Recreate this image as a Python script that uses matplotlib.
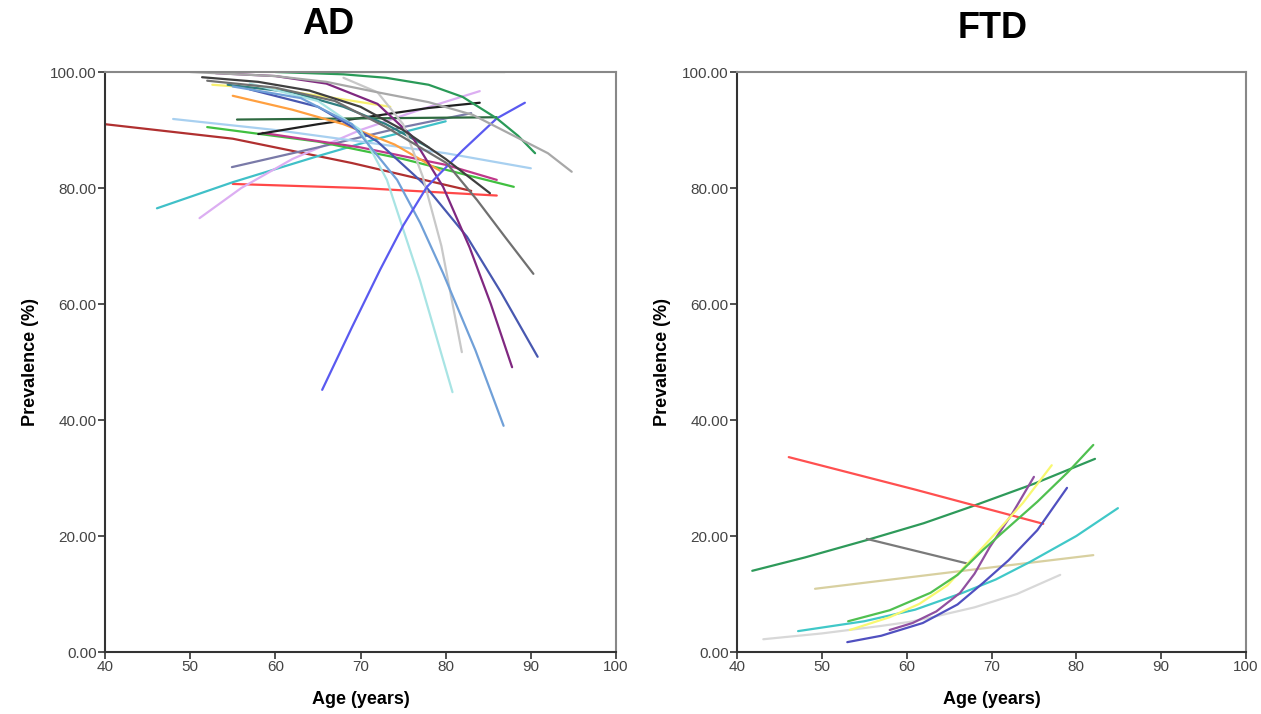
import numpy as np
import matplotlib
matplotlib.use('Agg')
import matplotlib.pyplot as plt

# AD curves: age and prevalence points
ad_age = [
    [40, 55, 69, 83],                                   # dark red
    [55, 70, 86],                                       # red
    [46.1, 55, 65, 72, 80],                             # turquoise
    [51.1, 56, 62, 70, 77, 84],                         # lilac
    [54.9, 65, 75, 83],                                 # slate
    [48, 60, 70, 80, 90],                               # light blue
    [52, 65, 75, 88],                                   # green
    [58.5, 70, 80, 86],                                 # magenta
    [58, 65, 72, 78, 84],                               # black rising
    [55.5, 70, 86],                                     # dark green flat
    [55, 62, 68, 74, 79.3],                             # orange
    [52.6, 60, 67, 73.5],                               # yellow
    [54.4, 62, 68, 73, 78],                             # teal
    [57, 65, 72, 77.3, 82.5, 86.5, 90.8],               # dark blue
    [53, 60, 66, 72, 76, 79.7, 82.8, 85.3, 87.8],       # purple
    [68, 72, 75, 77.3, 79.5, 81.9],                     # light gray steep
    [57, 65, 70, 73.1, 77, 80.8],                       # light cyan
    [55, 63, 69, 74.3, 77, 79.7, 83.5, 86.8],           # steel blue
    [65.5, 69, 72.3, 75, 77.8, 82, 86, 89.3],           # bright blue
    [52, 60, 67, 73, 80.1, 83.7, 87, 90.3],             # dark gray
    [60, 68, 73, 78, 82, 86, 88.5, 90.5],               # green top
    [50, 60, 66, 72, 78, 83.2, 88, 92, 94.8],           # medium gray
    [63, 87],                                           # gray green at top
    [51.4, 58, 64, 70, 75, 80, 85.2],                   # black
]
ad_prev = [
    [91, 88.5, 84.3, 79.5],
    [80.7, 80, 78.7],
    [76.5, 81, 85.5, 88.5, 91.5],
    [74.8, 80, 85, 90, 93.5, 96.7],
    [83.6, 87, 90.5, 92.9],
    [91.9, 90, 88, 86, 83.4],
    [90.5, 88, 85, 80.2],
    [89.5, 87, 84, 81.4],
    [89.3, 91, 92.5, 93.8, 94.7],
    [91.8, 92, 92.2],
    [95.9, 93.5, 91, 87.5, 83],
    [97.8, 97, 95.5, 94],
    [97.8, 96.5, 94, 91, 87],
    [97, 94, 88, 80.9, 71.6, 62, 50.9],
    [99.8, 99.3, 98, 94.5, 89, 80.2, 69.8, 60, 49.1],
    [99, 96.5, 91, 82, 70, 51.7],
    [98, 95, 90, 81.4, 64, 44.8],
    [97.5, 95.5, 91, 81.4, 74, 65.3, 52, 39],
    [45.2, 56, 65.9, 73.5, 80.2, 86.5, 92, 94.7],
    [98.5, 97.3, 95, 90.5, 84.3, 77.9, 71.5, 65.2],
    [100, 99.6, 99, 97.8, 95.7, 92, 89, 86],
    [100, 99.3, 98.3, 96.5, 94.8, 92.6, 89, 86, 82.8],
    [100, 100],
    [99.1, 98.3, 96.8, 94, 90, 85, 79.1],
]
ad_colors = [
    '#b03030', '#ff4848', '#40c0c8', '#dcaef2', '#7a7aa8', '#a8d0f0',
    '#40c040', '#c0388a', '#202020', '#2e6a40', '#ffa040', '#f8f070',
    '#2f7f80', '#4858b0', '#802880', '#c8c8c8', '#a8e4e4', '#70a0d8',
    '#5a5af0', '#707070', '#2a9a58', '#a8a8a8', '#8a9a88', '#404040',
]

# FTD curves
ftd_age = [
    [41.8, 48, 55.3, 62, 67.5, 75, 82.2],               # dark green
    [46.1, 61, 76.1],                                   # red
    [55.3, 67.3],                                       # gray
    [49.2, 65.5, 82],                                   # khaki
    [43.1, 50, 57, 60.4, 63, 68, 73, 78.1],             # light gray
    [47.2, 55, 61, 66.6, 70.5, 74.5, 80, 84.9],         # cyan
    [53, 57, 61.9, 66, 69, 72, 75.4, 78.9],             # blue
    [58, 60.7, 63.5, 66.3, 68, 69.8, 72.5, 75],         # purple
    [53.3, 58, 61.5, 64.8, 69, 73.7, 77.1],             # yellow
    [53.1, 58, 62.8, 66, 69, 72, 75.4, 79, 82],         # green
]
ftd_prev = [
    [14, 16.3, 19.3, 22.2, 25, 29, 33.3],
    [33.6, 28, 22.1],
    [19.5, 15.2],
    [10.9, 13.8, 16.7],
    [2.2, 3.2, 4.5, 5.2, 6, 7.7, 10, 13.3],
    [3.6, 5.3, 7.3, 10.2, 12.5, 15.5, 20, 24.8],
    [1.7, 2.8, 5, 8.2, 11.9, 15.8, 21, 28.3],
    [3.8, 5, 7, 10.2, 13.5, 18.1, 24, 30.2],
    [3.8, 6, 8.3, 11.5, 18.1, 25.7, 32.2],
    [5.3, 7.2, 10.2, 13.3, 17.6, 21.5, 25.9, 31, 35.7],
]
ftd_colors = [
    '#2e9a5a', '#ff5050', '#7a7a7a', '#d8d0a0', '#d8d8d8', '#40c8c8',
    '#5050c0', '#9050a0', '#f8f870', '#50c050',
]

plt.rcParams['font.family'] = ['Liberation Sans', 'DejaVu Sans']

fig = plt.figure(figsize=(12.61, 7.14), dpi=100)
ax_ad = fig.add_axes([105 / 1261, 1 - 652 / 714, 511 / 1261, 580 / 714])
ax_ftd = fig.add_axes([737 / 1261, 1 - 652 / 714, 509 / 1261, 580 / 714])

for ages, prevs, col in zip(ad_age, ad_prev, ad_colors):
    ax_ad.plot(ages, prevs, color=col, lw=1.6, solid_capstyle='round',
               solid_joinstyle='round')
for ages, prevs, col in zip(ftd_age, ftd_prev, ftd_colors):
    ax_ftd.plot(ages, prevs, color=col, lw=1.6, solid_capstyle='round',
                solid_joinstyle='round')

for ax in (ax_ad, ax_ftd):
    ax.set_xlim(40, 100)
    ax.set_ylim(0, 100)
    ax.set_xticks(np.arange(40, 101, 10))
    ax.set_yticks(np.arange(0, 101, 20))
    ax.set_yticklabels(['%.2f' % v for v in np.arange(0, 101, 20)])
    ax.tick_params(direction='out', length=5, width=1.2, color='#333333',
                   labelsize=11, labelcolor='#444444', pad=1)
    for side in ('left', 'bottom'):
        ax.spines[side].set_color('#333333')
        ax.spines[side].set_linewidth(1.5)
    for side in ('top', 'right'):
        ax.spines[side].set_color('#888888')
        ax.spines[side].set_linewidth(1.5)
    ax.set_xlabel('Age (years)', fontsize=13, fontweight='bold', labelpad=12)
    ax.set_ylabel('Prevalence (%)', fontsize=13, fontweight='bold', labelpad=8)

fig.text(328 / 1261, 1 - 24 / 714, 'AD', fontsize=26, fontweight='bold',
         ha='center', va='center')
fig.text(993 / 1261, 1 - 29 / 714, 'FTD', fontsize=26, fontweight='bold',
         ha='center', va='center')

fig.savefig('out.png', dpi=100)
